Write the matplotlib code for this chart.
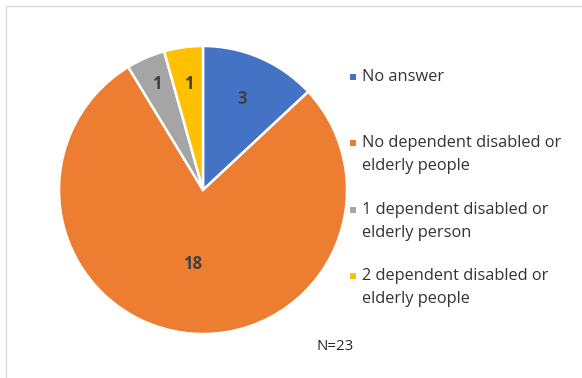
import numpy as np
import matplotlib.pyplot as plt
from matplotlib.patches import Rectangle
from matplotlib.lines import Line2D

categories = ["No answer",
              "No dependent disabled or\nelderly people",
              "1 dependent disabled or\nelderly person",
              "2 dependent disabled or\nelderly people"]
counts = [3, 18, 1, 1]
colors = ["#4472C4", "#ED7D31", "#A5A5A5", "#FFC000"]
label_dist = [0.69, 0.52, 0.80, 0.74]
note = "N=23"

W, H = 582, 378
fig = plt.figure(figsize=(W / 100, H / 100), dpi=100)
plt.rcParams['font.family'] = ['Open Sans', 'DejaVu Sans']

# pie area: centre (203,190), radius 144 px
cx, cy, r = 203, 190, 144
ax = fig.add_axes([(cx - r) / W, (H - cy - r) / H, 2 * r / W, 2 * r / H])
wedges, _ = ax.pie(counts, colors=colors, startangle=90, counterclock=False,
                   radius=1, wedgeprops=dict(edgecolor="white", linewidth=1.8))
ax.set_xlim(-1, 1)
ax.set_ylim(-1, 1)
ax.set_aspect("equal")
ax.axis("off")

for w, n, d in zip(wedges, counts, label_dist):
    mid = np.deg2rad((w.theta1 + w.theta2) / 2)
    ax.text(d * np.cos(mid), d * np.sin(mid), str(n), ha="center", va="center",
            fontsize=12, fontweight="bold", color="#404040")

# legend drawn by hand (Excel style: marker aligned to first line)
first_rows = [77, 143, 210, 276]
line_gap = 23
for lab, col, y0 in zip(categories, colors, first_rows):
    fig.add_artist(Rectangle((350 / W, 1 - (y0 + 3) / H), 6 / W, 6 / H,
                             transform=fig.transFigure, color=col, lw=0))
    for i, line in enumerate(lab.split("\n")):
        fig.text(362 / W, 1 - (y0 + i * line_gap) / H, line, ha="left",
                 va="center", fontsize=11.8, color="#333333")

fig.text(316 / W, 1 - 347 / H, note, ha="left", va="center",
         fontsize=10.8, color="#262626")

# chart frame (only top and left edges are visible)
fig.add_artist(Line2D([6 / W, 6 / W, 1.0], [0.0, 1 - 6 / H, 1 - 6 / H],
                      transform=fig.transFigure, color="#D9D9D9", lw=1))

fig.savefig("out.png", dpi=100)
